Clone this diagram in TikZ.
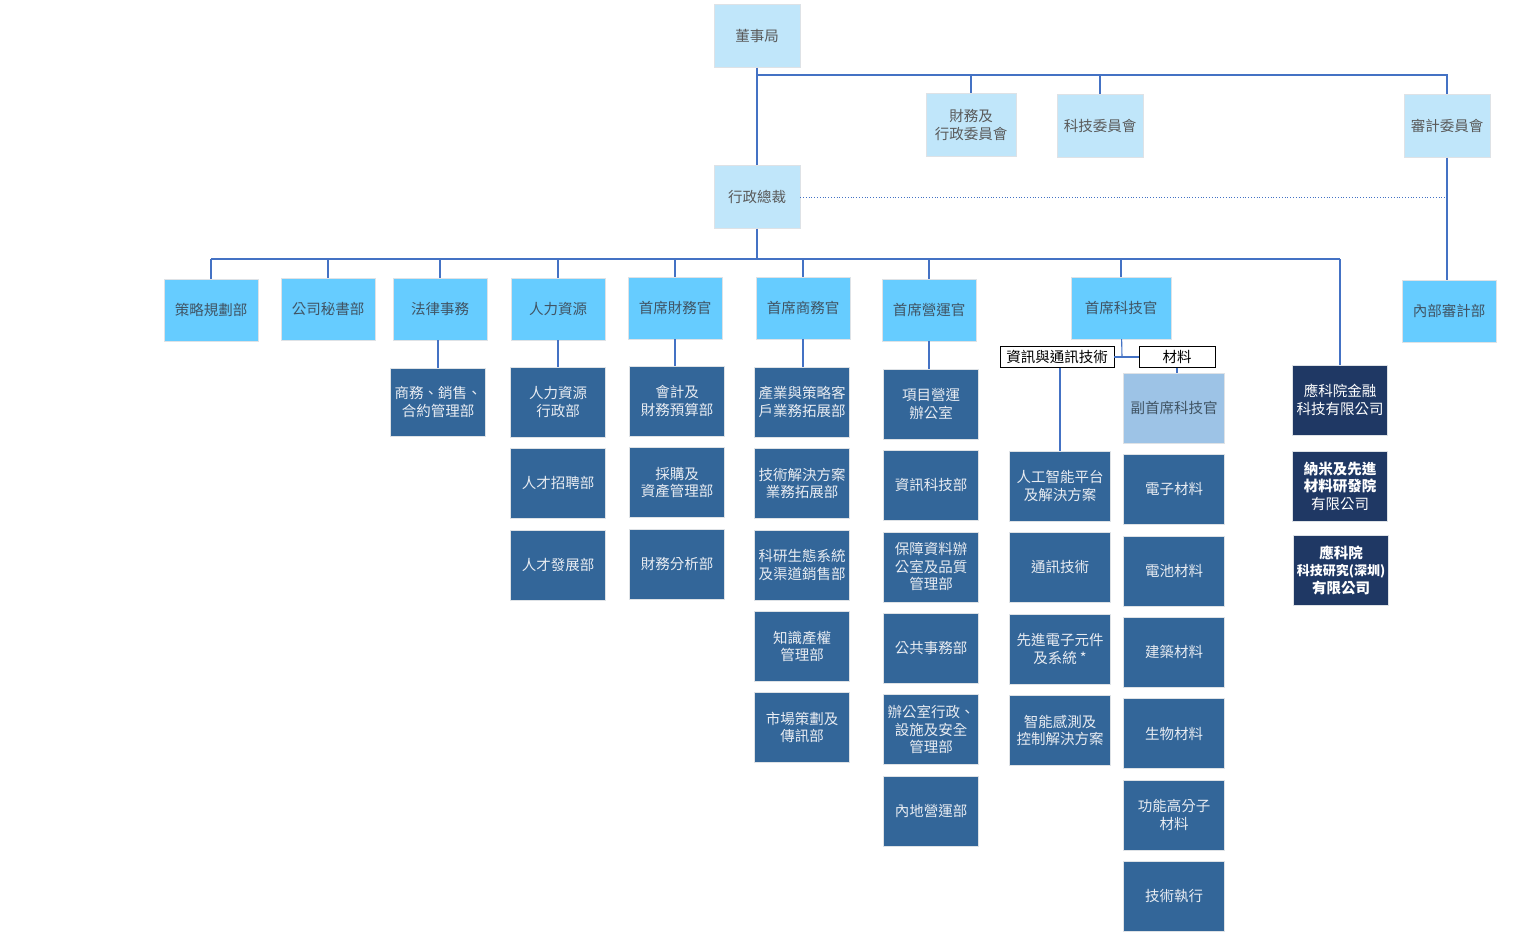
\documentclass[tikz,border=0pt]{standalone}
\usepackage{fontspec}
\setmainfont{Noto Sans CJK TC}
\usepackage{tikz}
\usetikzlibrary{positioning}
\definecolor{boardblue}{RGB}{192, 230, 250}
\definecolor{headblue}{RGB}{102, 204, 255}
\definecolor{deptblue}{RGB}{51, 102, 153}
\definecolor{compnavy}{RGB}{31, 56, 100}
\definecolor{viceblue}{RGB}{157, 195, 230}
\definecolor{linkblue}{RGB}{68, 114, 196}
\definecolor{boardtext}{RGB}{89, 89, 89}
\definecolor{headtext}{RGB}{64, 84, 100}
\definecolor{depttext}{RGB}{232, 236, 242}
\definecolor{edgegray}{RGB}{222, 226, 230}

\begin{document}
\begin{tikzpicture}[x=1pt, y=-1pt,
    every node/.style={font=\fontsize{14.5}{17.5}\selectfont, align=center, inner sep=1pt},
    topbox/.style={draw=edgegray, fill=boardblue, text=boardtext, minimum width=86pt, minimum height=63pt},
    headbox/.style={draw=edgegray, fill=headblue, text=headtext, minimum width=94pt, minimum height=62pt},
    deptbox/.style={draw=edgegray, fill=deptblue, text=depttext, minimum width=95pt, minimum height=70pt},
    vicebox/.style={draw=edgegray, fill=viceblue, text=headtext, minimum width=101pt, minimum height=70pt},
    compbox/.style={draw=edgegray, fill=compnavy, text=white, minimum width=95pt, minimum height=70pt},
    tagbox/.style={draw=black, fill=white, text=black, minimum height=21pt, inner xsep=3pt},
    link/.style={draw=linkblue, line width=1.1pt},
    dotlink/.style={draw=linkblue, line width=0.8pt, dotted},
    node distance=11pt
]
    \useasboundingbox (0,0) rectangle (1513,940);

    % Board and CEO
    \node (board) [topbox] at (757,36) {董事局};
    \node (fincom) [topbox, minimum width=90pt] at (971,125) {財務及\\行政委員會};
    \node (techcom) [topbox] at (1100,126) {科技委員會};
    \node (audcom) [topbox] at (1447,126) {審計委員會};
    \node (ceo) [topbox] at (757,197) {行政總裁};

    % Heads
    \node (strat) [headbox] at (211,310) {策略規劃部};
    \node (cosec) [headbox] at (328,309) {公司秘書部};
    \node (legal) [headbox] at (440,309) {法律事務};
    \node (hr) [headbox] at (558,309) {人力資源};
    \node (cfo) [headbox] at (675,308) {首席財務官};
    \node (cco) [headbox] at (803,308) {首席商務官};
    \node (coo) [headbox] at (929,310) {首席營運官};
    \node (cto) [headbox, minimum width=100pt] at (1121,308) {首席科技官};
    \node (intaud) [headbox] at (1449,311) {內部審計部};

    % Legal
    \node (legalA) [deptbox, minimum height=68pt] at (438,402) {商務、銷售、\\合約管理部};

    % HR
    \node (hrA) [deptbox] at (558,402) {人力資源\\行政部};
    \node (hrB) [deptbox, below=of hrA] {人才招聘部};
    \node (hrC) [deptbox, below=of hrB] {人才發展部};

    % CFO
    \node (cfoA) [deptbox] at (677,401) {會計及\\財務預算部};
    \node (cfoB) [deptbox, below=of cfoA] {採購及\\資產管理部};
    \node (cfoC) [deptbox, below=of cfoB] {財務分析部};

    % CCO
    \node (ccoA) [deptbox] at (802,402) {產業與策略客\\戶業務拓展部};
    \node (ccoB) [deptbox, below=of ccoA] {技術解決方案\\業務拓展部};
    \node (ccoC) [deptbox, below=of ccoB] {科研生態系統\\及渠道銷售部};
    \node (ccoD) [deptbox, below=of ccoC] {知識產權\\管理部};
    \node (ccoE) [deptbox, below=of ccoD] {市場策劃及\\傳訊部};

    % COO
    \node (cooA) [deptbox] at (931,404) {項目營運\\辦公室};
    \node (cooB) [deptbox, below=of cooA] {資訊科技部};
    \node (cooC) [deptbox, below=of cooB] {保障資料辦\\公室及品質\\管理部};
    \node (cooD) [deptbox, below=of cooC] {公共事務部};
    \node (cooE) [deptbox, below=of cooD] {辦公室行政、\\設施及安全\\管理部};
    \node (cooF) [deptbox, below=of cooE] {內地營運部};

    % CTO
    \node (ict) [tagbox, minimum width=114pt] at (1057,357) {資訊與通訊技術};
    \node (mat) [tagbox, minimum width=76pt] at (1177,357) {材料};
    \node (ictA) [deptbox, minimum width=101pt] at (1060,486) {人工智能平台\\及解決方案};
    \node (ictB) [deptbox, minimum width=101pt, below=of ictA] {通訊技術};
    \node (ictC) [deptbox, minimum width=101pt, below=of ictB] {先進電子元件\\及系統 *};
    \node (ictD) [deptbox, minimum width=101pt, below=of ictC] {智能感測及\\控制解決方案};
    \node (vcto) [vicebox] at (1174,408) {副首席科技官};
    \node (matA) [deptbox, minimum width=101pt, below=of vcto] {電子材料};
    \node (matB) [deptbox, minimum width=101pt, below=of matA] {電池材料};
    \node (matC) [deptbox, minimum width=101pt, below=of matB] {建築材料};
    \node (matD) [deptbox, minimum width=101pt, below=of matC] {生物材料};
    \node (matE) [deptbox, minimum width=101pt, below=of matD] {功能高分子\\材料};
    \node (matF) [deptbox, minimum width=101pt, below=of matE] {技術執行};

    % Companies
    \node (fintech) [compbox] at (1340,400) {應科院金融\\科技有限公司};
    \node (nami) [compbox] at (1340,486) {\textbf{納米及先進}\\\textbf{材料研發院}\\有限公司};
    \node (szri) [compbox] at (1341,570) {\textbf{應科院}\\{\fontsize{13}{17.5}\selectfont\textbf{科技研究(深圳)}}\\\textbf{有限公司}};

    % Lines
    \coordinate (boardbus) at (757,75);
    \coordinate (ceobus) at (757,259);
    \coordinate (ctojoin) at (1122,357);

    \draw [link] (board) -- (ceo);
    \draw [link] (boardbus) -| (audcom);
    \draw [link] (fincom.north |- boardbus) -- (fincom);
    \draw [link] (techcom.north |- boardbus) -- (techcom);
    \draw [link] (audcom) -- (audcom |- intaud.north);
    \draw [dotlink] (ceo) -- (ceo -| audcom);

    \draw [link] (ceo) -- (ceobus);
    \draw [link] (ceobus -| strat) -- (ceobus -| fintech);
    \draw [link] (ceobus -| strat) -- (strat);
    \draw [link] (ceobus -| cosec) -- (cosec);
    \draw [link] (ceobus -| legal) -- (legal);
    \draw [link] (ceobus -| hr) -- (hr);
    \draw [link] (ceobus -| cfo) -- (cfo);
    \draw [link] (ceobus -| cco) -- (cco);
    \draw [link] (ceobus -| coo) -- (coo);
    \draw [link] (ceobus -| cto) -- (cto);
    \draw [link] (ceobus -| fintech) -- (fintech);

    \draw [link] (legalA |- legal.south) -- (legalA);
    \draw [link] (hr) -- (hrA);
    \draw [link] (cfo) -- (cfo |- cfoA.north);
    \draw [link] (cco) -- (cco |- ccoA.north);
    \draw [link] (coo) -- (coo |- cooA.north);

    \draw [link] (cto) -- (ctojoin);
    \draw [link] (ict) -- (mat);
    \draw [link] (ictA |- ict.south) -- (ictA);
    \draw [link] (mat.south) -- (mat.south |- vcto.north);
\end{tikzpicture}
\end{document}
